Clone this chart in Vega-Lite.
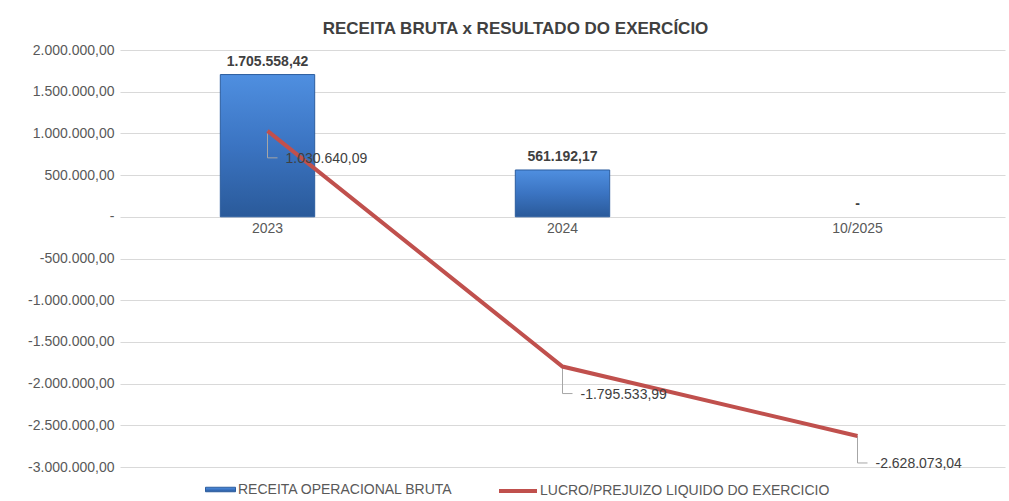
{
  "$schema": "https://vega.github.io/schema/vega-lite/v6.json",
  "autosize": {"type": "none"},
  "width": 885,
  "height": 417,
  "padding": {"left": 120, "top": 50, "right": 4, "bottom": 34},
  "background": "white",
  "title": {
    "text": "RECEITA BRUTA x RESULTADO DO EXERCÍCIO",
    "anchor": "middle",
    "frame": "group",
    "dx": -47,
    "offset": 5,
    "font": "Liberation Sans",
    "fontSize": 17,
    "fontWeight": "bold",
    "color": "#404040"
  },
  "data": {
    "values": [
      {"periodo": "2023", "receita": 1705558.42, "resultado": 1030640.09},
      {"periodo": "2024", "receita": 561192.17, "resultado": -1795533.99},
      {"periodo": "10/2025", "receita": 0, "resultado": -2628073.04}
    ]
  },
  "encoding": {
    "x": {
      "field": "periodo",
      "type": "nominal",
      "sort": ["2023", "2024", "10/2025"],
      "scale": {"paddingInner": 0.68, "paddingOuter": 0.34},
      "axis": null
    }
  },
  "layer": [
    {
      "mark": {
        "type": "bar",
        "fill": {
          "gradient": "linear",
          "x1": 0, "y1": 0, "x2": 0, "y2": 1,
          "stops": [
            {"offset": 0, "color": "#4F8FE0"},
            {"offset": 0.5, "color": "#3B74C2"},
            {"offset": 1, "color": "#2A5A9A"}
          ]
        }
      },
      "encoding": {
        "y": {
          "field": "receita",
          "type": "quantitative",
          "scale": {"domain": [-3000000, 2000000], "nice": false, "zero": false},
          "axis": {
            "title": null,
            "values": [2000000, 1500000, 1000000, 500000, 0, -500000, -1000000, -1500000, -2000000, -2500000, -3000000],
            "format": ",.2f",
            "labelExpr": "datum.value == 0 ? '-' : datum.label",
            "domain": false,
            "ticks": false,
            "grid": true,
            "gridColor": "#D9D9D9",
            "gridWidth": 1,
            "labelFont": "Liberation Sans",
            "labelFontSize": 14,
            "labelColor": "#595959",
            "labelPadding": 6
          }
        },
        "strokeWidth": {"condition": {"test": "datum.receita == 0", "value": 0}, "value": 1},
        "stroke": {
          "datum": "RECEITA OPERACIONAL BRUTA",
          "type": "nominal",
          "scale": {"domain": ["RECEITA OPERACIONAL BRUTA"], "range": ["#2C5D9E"]},
          "legend": {
            "title": null,
            "orient": "none",
            "legendX": 85,
            "legendY": 424,
            "symbolType": "M-1,-0.15H1V0.15H-1Z",
            "symbolSize": 900,
            "symbolFillColor": "#3F7AC8",
            "symbolStrokeWidth": 1,
            "labelFont": "Liberation Sans",
            "labelFontSize": 14,
            "labelColor": "#595959",
            "labelOffset": 2,
            "labelLimit": 400
          }
        }
      }
    },
    {
      "mark": {"type": "text", "baseline": "middle", "dy": -13, "font": "Liberation Sans", "fontSize": 14, "fontWeight": "bold", "color": "#404040"},
      "encoding": {
        "y": {"field": "receita", "type": "quantitative"},
        "text": {
          "condition": {"test": "datum.receita == 0", "value": "-"},
          "field": "receita",
          "type": "quantitative",
          "format": ",.2f"
        }
      }
    },
    {
      "mark": {"type": "text", "baseline": "middle", "dy": 12, "font": "Liberation Sans", "fontSize": 14, "color": "#595959"},
      "encoding": {
        "y": {"datum": 0, "type": "quantitative"},
        "text": {"field": "periodo", "type": "nominal"}
      }
    },
    {
      "mark": {"type": "rule", "color": "#A6A6A6", "strokeWidth": 1, "y2Offset": 27},
      "encoding": {
        "y": {"field": "resultado", "type": "quantitative"},
        "y2": {"field": "resultado"}
      }
    },
    {
      "mark": {"type": "rule", "color": "#A6A6A6", "strokeWidth": 1, "yOffset": 27, "y2Offset": 27, "x2Offset": 10},
      "encoding": {
        "x2": {"field": "periodo"},
        "y": {"field": "resultado", "type": "quantitative"}
      }
    },
    {
      "mark": {"type": "line", "strokeWidth": 4},
      "encoding": {
        "y": {"field": "resultado", "type": "quantitative"},
        "color": {
          "datum": "LUCRO/PREJUIZO LIQUIDO DO EXERCICIO",
          "type": "nominal",
          "scale": {"domain": ["LUCRO/PREJUIZO LIQUIDO DO EXERCICIO"], "range": ["#C0504D"]},
          "legend": {
            "title": null,
            "orient": "none",
            "legendX": 377,
            "legendY": 420,
            "symbolType": "M-1,0H1",
            "symbolSize": 1444,
            "symbolStrokeWidth": 4,
            "symbolStrokeColor": "#C0504D",
            "labelFont": "Liberation Sans",
            "labelFontSize": 14,
            "labelColor": "#595959",
            "labelOffset": 1,
            "labelLimit": 400
          }
        }
      }
    },
    {
      "mark": {"type": "text", "align": "left", "baseline": "middle", "dx": 18, "dy": 28, "font": "Liberation Sans", "fontSize": 14, "color": "#404040"},
      "encoding": {
        "y": {"field": "resultado", "type": "quantitative"},
        "text": {"field": "resultado", "type": "quantitative", "format": ",.2f"}
      }
    }
  ],
  "resolve": {"scale": {"stroke": "independent", "color": "independent"}, "legend": {"stroke": "independent", "color": "independent"}},
  "config": {
    "locale": {
      "number": {"decimal": ",", "thousands": ".", "grouping": [3], "currency": ["R$", ""], "minus": "-"}
    },
    "view": {"stroke": null}
  }
}
